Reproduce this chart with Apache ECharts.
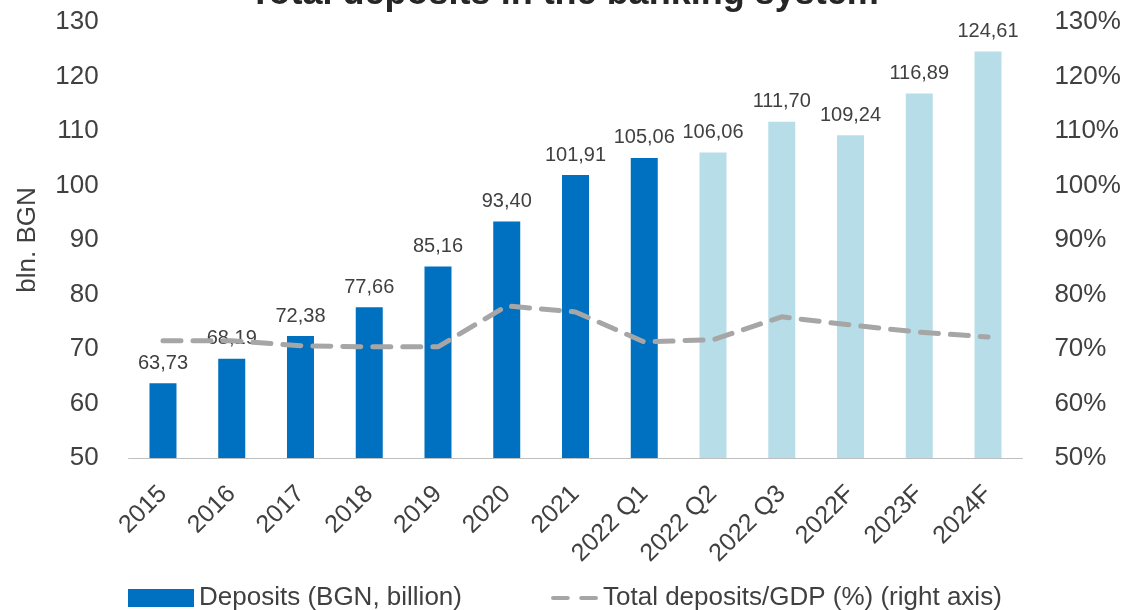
<!DOCTYPE html>
<html>
<head>
<meta charset="utf-8">
<script src="https://cdn.jsdelivr.net/npm/echarts@6/dist/echarts.min.js"></script>
<style>
  html, body { margin: 0; padding: 0; background: #fff; }
  #chart { width: 1128px; height: 610px; }
</style>
</head>
<body>
<div id="chart"></div>
<script>
// Periods on the category axis
const categories = ['2015', '2016', '2017', '2018', '2019', '2020', '2021',
  '2022 Q1', '2022 Q2', '2022 Q3', '2022F', '2023F', '2024F'];

// Deposits in the banking system, BGN billion
const deposits = [63.73, 68.19, 72.38, 77.66, 85.16, 93.40, 101.91,
  105.06, 106.06, 111.70, 109.24, 116.89, 124.61];

// Total deposits as a share of GDP, %
const depositsToGdp = [71.5, 71.5, 70.6, 70.4, 70.4, 77.9, 76.8,
  71.3, 71.7, 75.9, 74.4, 73.1, 72.2];

// Number of reported periods drawn in dark blue; later ones are lighter
const reportedCount = 8;

const FONT = '"Liberation Sans", Arial, sans-serif';
const DARK = '#0070C0';
const LIGHT = '#B7DDE8';
const GREY = '#A6A6A6';

const barData = deposits.map((v, i) =>
  i < reportedCount ? v : { value: v, itemStyle: { color: LIGHT } });

const chart = echarts.init(document.getElementById('chart'));
chart.setOption({
  animation: false,
  title: {
    text: 'Total deposits in the banking system',
    left: 'center',
    top: -29,
    textStyle: { fontFamily: FONT, fontSize: 36, fontWeight: 'bold', color: '#262626' }
  },
  legend: [
    {
      data: [{ name: 'Deposits (BGN, billion)', icon: 'rect' }],
      left: 123, top: 580,
      itemWidth: 66, itemHeight: 18,
      textStyle: { fontFamily: FONT, fontSize: 26, color: '#404040' }
    },
    {
      // two short dashes as the key for the dashed ratio line
      data: [{
        name: 'Total deposits/GDP (%) (right axis)',
        icon: 'path://M2,0h14a2,2 0 0 1 0,4h-14a2,2 0 0 1 0,-4z M29,0h14a2,2 0 0 1 0,4h-14a2,2 0 0 1 0,-4z',
        itemStyle: { color: GREY }
      }],
      left: 546, top: 580,
      itemWidth: 47, itemHeight: 5,
      textStyle: { fontFamily: FONT, fontSize: 26, color: '#404040' }
    }
  ],
  grid: { left: 128.6, right: 105.6, top: 22, bottom: 152 },
  xAxis: {
    type: 'category',
    data: categories,
    axisLine: { lineStyle: { color: '#BFBFBF', width: 1 } },
    axisTick: { show: false },
    axisLabel: {
      rotate: 45, margin: 32, interval: 0,
      fontFamily: FONT, fontSize: 25, color: '#404040'
    }
  },
  yAxis: [
    {
      type: 'value', min: 50, max: 130, interval: 10,
      name: 'bln. BGN', nameLocation: 'middle', nameGap: 88, nameRotate: 90,
      nameTextStyle: { fontFamily: FONT, fontSize: 26, color: '#404040' },
      splitLine: { show: false },
      axisLine: { show: false }, axisTick: { show: false },
      axisLabel: { margin: 30, fontFamily: FONT, fontSize: 26, color: '#404040' }
    },
    {
      type: 'value', min: 50, max: 130, interval: 10,
      splitLine: { show: false },
      axisLine: { show: false }, axisTick: { show: false },
      axisLabel: { margin: 32, formatter: '{value}%', fontFamily: FONT, fontSize: 26, color: '#404040' }
    }
  ],
  series: [
    {
      name: 'Deposits (BGN, billion)',
      type: 'bar',
      data: barData,
      barWidth: 27,
      itemStyle: { color: DARK },
      label: {
        show: true, position: 'top', distance: 10,
        fontFamily: FONT, fontSize: 20, color: '#404040',
        formatter: p => p.value.toFixed(2).replace('.', ',')
      },
      z: 2
    },
    {
      name: 'Total deposits/GDP (%) (right axis)',
      type: 'line',
      yAxisIndex: 1,
      data: depositsToGdp,
      symbol: 'none',
      lineStyle: { color: GREY, width: 5, type: [18, 12], cap: 'round' },
      itemStyle: { color: GREY },
      z: 3
    }
  ]
});
</script>
</body>
</html>
